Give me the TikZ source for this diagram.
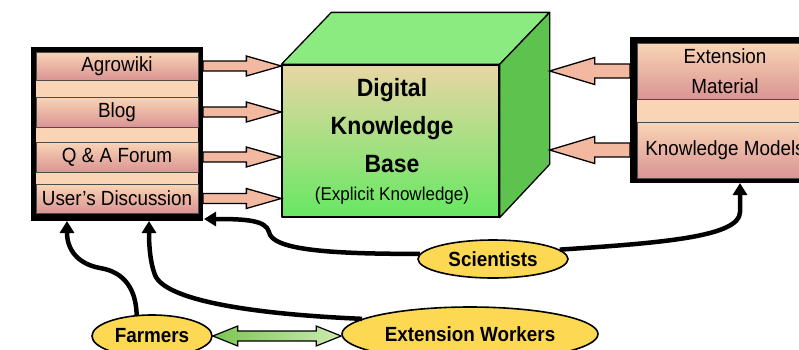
\documentclass[tikz,border=0pt]{standalone}
\usepackage{fontspec}
\setmainfont{Liberation Sans}[FakeStretch=0.92]
\usetikzlibrary{arrows.meta,calc,shapes.geometric}

\definecolor{peach}{HTML}{F9D5B5}
\definecolor{rose}{HTML}{DA9494}
\definecolor{salmon}{HTML}{F2B8A0}
\definecolor{gold}{HTML}{FDD853}
\definecolor{topgreen}{HTML}{8BEB80}
\definecolor{sidegreen}{HTML}{5DC24E}
\definecolor{tanface}{HTML}{E8D6A4}
\definecolor{frontgreen}{HTML}{66E862}
\definecolor{dgreen}{HTML}{7CC452}
\definecolor{lgreen}{HTML}{CDEBB0}

% #1 style, #2 start, #3 tip point, #4 shaft half height, #5 head half height, #6 signed head length
\newcommand{\FatArr}[6]{%
  \path[#1] let \p1=(#2), \p2=(#3) in
    (\x1,{\y1+#4}) -- ({\x2-(#6)},{\y1+#4}) -- ({\x2-(#6)},{\y1+#5}) -- (\x2,\y1)
    -- ({\x2-(#6)},{\y1-(#5)}) -- ({\x2-(#6)},{\y1-(#4)}) -- (\x1,{\y1-(#4)}) -- cycle;}

\begin{document}
\begin{tikzpicture}[x=1pt,y=-1pt,
  frame/.style={fill=black, inner sep=0pt, outer sep=0pt},
  bgfill/.style={fill=peach, inner sep=0pt, outer sep=0pt},
  strip/.style={draw=black!70, line width=0.6pt, top color=peach, bottom color=rose,
    inner sep=0pt, outer sep=0pt, align=center, font=\fontsize{20.5}{30}\selectfont},
  lbl/.style={ellipse, draw=black, line width=1.6pt, fill=gold, inner sep=0pt,
    font=\bfseries\fontsize{20.5}{22}\selectfont},
  conn/.style={line width=4.5pt, -{Triangle[length=12pt,width=14pt]}},
  fat/.style={draw=black, line width=1.3pt, fill=salmon, line join=miter},
  face/.style={draw=black, line width=1.3pt, line join=round}]

\useasboundingbox (0,0) rectangle (799,349);

% ---------- left box ----------
\node[frame, minimum width=172pt, minimum height=174pt] (lbox) at (117,134) {};
\node[bgfill, minimum width=162pt, minimum height=161pt] (lin) at (117,132.5) {};
\node[strip, minimum width=162pt, minimum height=28pt] (agro) at (117,66) {Agrowiki};
\node[strip, minimum width=162pt, minimum height=30pt] (blog) at (117,112) {Blog};
\node[strip, minimum width=162pt, minimum height=30pt] (qa) at (117,157) {Q \& A Forum};
\node[strip, minimum width=162pt, minimum height=29pt] (uds) at (117,198.5) {User’s Discussion};

% ---------- right box ----------
\node[frame, minimum width=190pt, minimum height=146pt] (rbox) at (725,110) {};
\node[bgfill, minimum width=183pt, minimum height=135pt] (rin) at (728.5,110.5) {};
\node[strip, minimum width=176pt, minimum height=56pt] (em) at (725,71) {Extension\\Material};
\node[strip, minimum width=176pt, minimum height=56pt] (km) at (725,150) {Knowledge Models};

% ---------- cube ----------
\node[face, top color=tanface, bottom color=frontgreen, minimum width=217pt, minimum height=152pt,
  inner sep=0pt] (front) at (390.5,141) {};
\coordinate (cbr) at ($(front.north east)+(50,-52)$);
\draw[face, fill=topgreen] (front.north west) -- ++(50,-52) -- (cbr) -- (front.north east) -- cycle;
\draw[face, fill=sidegreen] (front.north east) -- (cbr) -- ++(0,152) -- (front.south east) -- cycle;
\node[align=center, font=\bfseries\fontsize{25}{38}\selectfont] (dkb) at (392,126) {Digital\\Knowledge\\Base};
\node[font=\fontsize{18.5}{20}\selectfont] (ek) at (392,196) {(Explicit Knowledge)};

% ---------- fat arrows ----------
\FatArr{fat}{agro.east -| lbox.east}{agro.east -| front.west}{5pt}{10pt}{35pt}
\FatArr{fat}{blog.east -| lbox.east}{blog.east -| front.west}{5pt}{10pt}{35pt}
\FatArr{fat}{qa.east -| lbox.east}{qa.east -| front.west}{5pt}{10pt}{35pt}
\FatArr{fat}{uds.east -| lbox.east}{uds.east -| front.west}{5pt}{10pt}{35pt}
\FatArr{fat}{em.west -| rbox.west}{em.west -| cbr}{7pt}{13.5pt}{-45pt}
\FatArr{fat}{km.west -| rbox.west}{km.west -| cbr}{7pt}{13.5pt}{-45pt}

% ---------- actors ----------
\node[lbl, minimum width=150pt, minimum height=38pt] (sci) at (493,259) {Scientists};
\node[lbl, minimum width=120pt, minimum height=42pt] (farm) at (152,336) {Farmers};
\node[lbl, minimum width=256pt, minimum height=54pt] (ew) at (470,334) {Extension Workers};

% ---------- connectors ----------
\coordinate (t1) at ($(lbox.south west)+(36,0)$);
\coordinate (t2) at ($(lbox.south west)+(118,0)$);
\coordinate (t3) at ($(lbox.south east)+(1,-2)$);
\coordinate (t4) at ($(rbox.south west)+(110,0)$);

\draw[conn] (farm.126) .. controls (136,290) and (125,272) .. (100,268)
  .. controls (78,264) and (67,250) .. (t1);
\draw[conn] (ew.172) .. controls (250,314) and (165,300) .. (155,275)
  .. controls (150,262) and (149,245) .. (t2);
\draw[conn] (sci.176) .. controls (330,254) and (272,250) .. (269,232)
  .. controls (266,220) and (245,219) .. (t3);
\draw[conn] (sci.8) .. controls (660,243) and (740,237) .. (740,212) -- (t4);

% ---------- green double arrow ----------
\path[draw=black, line width=1.2pt, left color=dgreen, right color=lgreen, line join=miter]
  let \p1=(farm.east), \p2=(ew.west) in
  (\x1,\y1) -- ({\x1+25pt},{\y1+10pt}) -- ({\x1+25pt},{\y1+5pt}) -- ({\x2-25pt},{\y1+5pt})
  -- ({\x2-25pt},{\y1+10pt}) -- (\x2,\y1) -- ({\x2-25pt},{\y1-10pt}) -- ({\x2-25pt},{\y1-5pt})
  -- ({\x1+25pt},{\y1-5pt}) -- ({\x1+25pt},{\y1-10pt}) -- cycle;
\end{tikzpicture}
\end{document}
